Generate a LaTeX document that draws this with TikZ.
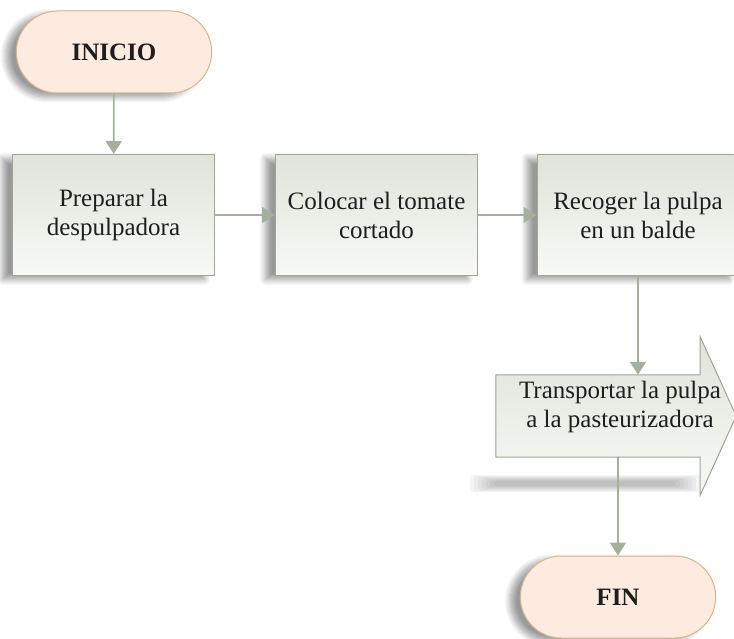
\documentclass[tikz,border=0pt]{standalone}
\usepackage{fontspec}
\setmainfont{Liberation Serif}
\usetikzlibrary{arrows.meta,shapes.misc,calc,shadows.blur}

\definecolor{termfill}{HTML}{FDEBDF}
\definecolor{termline}{HTML}{D6B58F}
\definecolor{boxtop}{HTML}{DFE3DA}
\definecolor{boxbottom}{HTML}{F8F9F6}
\definecolor{boxline}{HTML}{A0A59B}
\definecolor{flowline}{HTML}{A4AF9C}
\definecolor{inktext}{HTML}{1E1E1E}

\tikzset{
  basefont/.style={font=\fontsize{25}{29}\selectfont, text=inktext, align=center},
  softshadow/.style={blur shadow={shadow xshift=-10pt, shadow yshift=-4pt,
      shadow opacity=40, shadow blur radius=6pt, shadow blur steps=10}},
  terminal/.style={basefont, font=\fontsize{25}{29}\selectfont\bfseries,
      rounded rectangle, draw=termline, line width=1pt, fill=termfill,
      minimum width=202pt, minimum height=82pt, softshadow},
  stepbox/.style={basefont, rectangle, draw=boxline, line width=1pt,
      top color=boxtop, bottom color=boxbottom,
      minimum width=202pt, minimum height=121pt, softshadow},
  bigarrow/.style={draw=boxline, line width=1pt,
      top color=boxtop, bottom color=boxbottom},
  flow/.style={draw=flowline, line width=1.6pt,
      -{Triangle[length=13pt,width=16pt]}},
}

\begin{document}
\begin{tikzpicture}[x=1pt,y=-1pt]
\useasboundingbox (0,0) rectangle (734,639);

% terminals and process steps
\node[terminal] (inicio) at (114,52) {INICIO};
\node[stepbox] (prep) at (113.5,215) {Preparar la\\despulpadora};
\node[stepbox] (coloc) at (376.5,215) {Colocar el tomate\\cortado};
\node[stepbox] (recog) at (638,215) {Recoger la pulpa\\en un balde};

% block arrow holding the transport step: empty frame node, soft floor shadow,
% outline, then text
\node[minimum width=240pt, minimum height=82pt, inner sep=0pt] (trans) at (616,416) {};
\foreach \i in {0,...,6}{
  \fill[black, opacity=0.04, rounded corners=3pt]
    ($(trans.south west)+(-26+4*\i,18+\i)$) rectangle ($(trans.south east)+(-36-4*\i,35-\i)$);
}
\path[bigarrow] (trans.north west)
  -- ($(trans.north east)+(-36,0)$)
  -- ($(trans.north east)+(-36,-38)$)
  -- (trans.east)
  -- ($(trans.south east)+(-36,38)$)
  -- ($(trans.south east)+(-36,0)$)
  -- (trans.south west) -- cycle;
\node[basefont] (translabel) at ($(trans.center)+(4,-9)$)
  {Transportar la pulpa\\a la pasteurizadora};

\node[terminal] (fin) at (618,597) {FIN};

% connectors
\draw[flow] (inicio) -- (prep);
\draw[flow] (prep) -- (coloc);
\draw[flow] (coloc) -- (recog);
\draw[flow] (recog.south) -- (recog.south |- trans.north);
\draw[flow] (fin.north |- trans.south) -- (fin.north);
\end{tikzpicture}
\end{document}
